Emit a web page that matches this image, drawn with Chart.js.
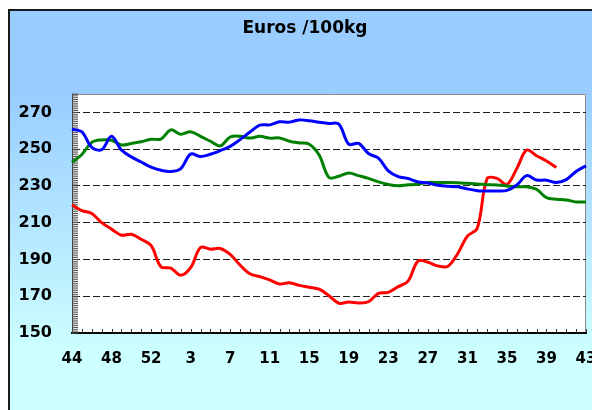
<!DOCTYPE html>
<html>
<head>
<meta charset="utf-8">
<script src="https://cdn.jsdelivr.net/npm/chart.js@4.4.1/dist/chart.umd.min.js"></script>
<style>
  html, body { margin: 0; overflow: hidden; background: #fff; }
  #frame {
    position: absolute; left: 8px; top: 9px; width: 600px; height: 420px;
    border-top: 2px solid #1a1a1a; border-left: 2px solid #1a1a1a;
    background: linear-gradient(to bottom, #99ccff 0px, #99ccff 80px, #ccffff 340px, #ccffff 100%);
  }
  #wrap { position: absolute; left: 0; top: 0; width: 592px; height: 410px; }
</style>
</head>
<body>
<div id="frame"></div>
<div id="wrap"><canvas id="myChart" width="592" height="410"></canvas></div>
<script>
// week numbers, 44 of one year to 43 of the next
var weeks = [44, 45, 46, 47, 48, 49, 50, 51, 52, 53,
  1, 2, 3, 4, 5, 6, 7, 8, 9, 10, 11, 12, 13, 14, 15, 16, 17, 18, 19, 20,
  21, 22, 23, 24, 25, 26, 27, 28, 29, 30, 31, 32, 33, 34, 35, 36, 37, 38, 39, 40,
  41, 42, 43];

var blue = [260.8, 259.4, 251, 249.7, 257, 249.5, 245.8, 243, 240.2, 238.5,
  237.8, 239.4, 247.3, 246, 247.2, 249.2, 251.5, 255.2, 259.3, 263.1,
  263.2, 264.9, 264.7, 265.9, 265.5, 264.6, 264, 263.6, 252.7, 253.1,
  247.6, 245.1, 238.2, 235.1, 234, 232.2, 231.6, 230.4, 229.8, 229.6,
  228.4, 227.4, 227.3, 227.3, 227.6, 230.5, 235.6, 233.2, 233.1, 231.8,
  233.4, 237.9, 240.9];

var green = [242.8, 247.1, 253.7, 255, 254.8, 252.3, 253.1, 254, 255.4, 255.5,
  260.5, 258.1, 259.5, 257, 254.3, 251.8, 256.6, 257, 256, 257,
  256, 256.1, 254.3, 253.4, 252.7, 246.8, 234.6, 235.3, 237, 235.6,
  234.1, 232.2, 230.8, 230.1, 230.6, 230.9, 231.9, 231.8, 231.8, 231.7,
  231.4, 231.1, 230.7, 230.5, 230, 229.5, 229.5, 228.2, 223.6, 222.8,
  222.4, 221.3, 221.3];

var red = [219.7, 216.6, 215, 210, 206.5, 203.2, 203.7, 201, 197.6, 186,
  185.3, 181.4, 185.5, 196.5, 195.6, 196, 192.8, 187, 182.2, 180.7,
  178.9, 176.7, 177.3, 175.9, 174.9, 173.8, 170.3, 166.2, 166.8, 166.3,
  167, 171.6, 172.1, 175.2, 178.2, 189.1, 188.5, 186.5, 186.2, 193,
  202.7, 207, 234, 234.1, 230.8, 239.5, 249.5, 246.4, 243.6, 240,
  null, null, null];

var yTicks = [150, 170, 190, 210, 230, 250, 270];

// white plot area, grey frame and the small inner tick marks
var plotFrame = {
  id: 'plotFrame',
  afterLayout: function(chart) {
    // title is centred on the whole grey-blue panel, not the plot
    if (chart.titleBlock) {
      chart.titleBlock.left = 24;
      chart.titleBlock.right = 586;
    }
  },
  beforeDraw: function(chart) {
    var a = chart.chartArea, ctx = chart.ctx;
    ctx.save();
    ctx.fillStyle = '#fff';
    ctx.fillRect(a.left, a.top, a.right - a.left, a.bottom - a.top);
    ctx.strokeStyle = '#8a8a8a';
    ctx.lineWidth = 1;
    ctx.beginPath();
    ctx.moveTo(a.left, a.top + 0.5);
    ctx.lineTo(a.right - 0.5, a.top + 0.5);
    ctx.lineTo(a.right - 0.5, a.bottom);
    ctx.stroke();
    ctx.restore();
  },
  beforeDatasetsDraw: function(chart) {
    var a = chart.chartArea, ctx = chart.ctx;
    var x = chart.scales.x, y = chart.scales.y;
    var i, v, p;
    ctx.save();
    ctx.strokeStyle = '#333';
    ctx.lineWidth = 1;
    ctx.beginPath();
    for (i = 0; i < weeks.length; i++) {
      p = Math.round(x.getPixelForValue(i)) + 0.5;
      ctx.moveTo(p, a.bottom);
      ctx.lineTo(p, a.bottom - 4);
    }
    ctx.stroke();
    ctx.strokeStyle = '#555';
    ctx.beginPath();
    for (v = 150; v <= 280; v++) {
      p = y.getPixelForValue(v);
      ctx.moveTo(a.left, p);
      ctx.lineTo(a.left + 6, p);
    }
    ctx.stroke();
    ctx.restore();
  }
};

var ctx = document.getElementById('myChart');
var myChart = new Chart(ctx, {
  type: 'line',
  data: {
    labels: weeks,
    datasets: [
      { data: blue, borderColor: '#0000ff' },
      { data: green, borderColor: '#008000' },
      { data: red, borderColor: '#ff0000' }
    ]
  },
  options: {
    responsive: false,
    animation: false,
    layout: { padding: { left: 0, right: 6, top: 0, bottom: 0 } },
    elements: {
      point: { radius: 0 },
      line: { borderWidth: 3, tension: 0.35, fill: false }
    },
    plugins: {
      legend: { display: false },
      tooltip: { enabled: false },
      title: {
        display: true,
        text: 'Euros /100kg',
        color: '#000',
        font: { family: 'DejaVu Sans', size: 17, weight: 'bold' },
        padding: { top: 18, bottom: 55.6 }
      }
    },
    scales: {
      x: {
        grid: { display: false, drawTicks: false },
        border: { color: '#000', width: 2 },
        ticks: {
          autoSkip: false,
          maxRotation: 0,
          padding: 17,
          color: '#000',
          font: { family: 'DejaVu Sans', size: 15, weight: 'bold' },
          callback: function(val, i) { return i % 4 === 0 ? String(weeks[i]) : ''; }
        },
        afterFit: function(s) { s.height = 77; s.paddingLeft = 0; s.paddingRight = 0; }
      },
      y: {
        min: 150,
        max: 280,
        grid: { color: '#222', lineWidth: 1, drawTicks: false },
        border: { color: '#333', width: 1, dash: [7, 3] },
        ticks: {
          padding: 20,
          color: '#000',
          font: { family: 'DejaVu Sans', size: 16, weight: 'bold' }
        },
        afterBuildTicks: function(s) {
          s.ticks = yTicks.map(function(v) { return { value: v }; });
        },
        afterFit: function(s) { s.width = 72; }
      }
    }
  },
  plugins: [plotFrame]
});
</script>
</body>
</html>
